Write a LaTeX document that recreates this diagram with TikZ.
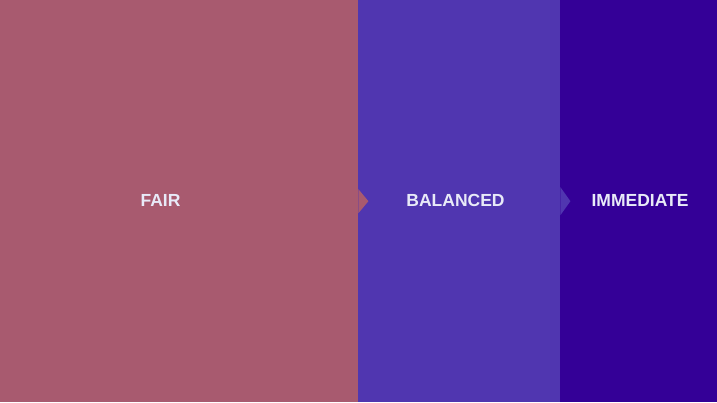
\documentclass[tikz,border=0pt]{standalone}
\usepackage{fontspec}
\setmainfont{Liberation Sans}
\usepackage{tikz}
\usetikzlibrary{positioning,calc}
\usepackage{xcolor}
\definecolor{fairc}{RGB}{168,90,111}
\definecolor{balc}{RGB}{80,54,176}
\definecolor{immc}{RGB}{52,0,151}
\definecolor{lblc}{RGB}{232,234,248}

\begin{document}
\begin{tikzpicture}[x=1pt, y=-1pt,
        band/.style={draw=none, rectangle, inner sep=0pt, minimum height=402pt, anchor=north west},
        lbl/.style={font=\bfseries\fontsize{17.5}{20}\selectfont, text=lblc, inner sep=0pt}]
        \useasboundingbox (0,0) rectangle (717,402);

        % Faixas
        \node[band, fill=immc, minimum width=157pt] (imm) at (560,0) {};
        \node[band, fill=balc, minimum width=202pt] (bal) at (358,0) {};
        \fill[balc] ($(bal.east)+(0,-14)$) -- ($(bal.east)+(10,0)$) -- ($(bal.east)+(0,14)$) -- cycle;
        \node[band, fill=fairc, minimum width=358pt] (fair) at (0,0) {};
        \fill[fairc] ($(fair.east)+(0,-12)$) -- ($(fair.east)+(10,0)$) -- ($(fair.east)+(0,12)$) -- cycle;

        % Textos
        \node[lbl] (fairlbl) at (160.5,200) {FAIR};
        \node[lbl] (ballbl) at (455.5,200) {BALANCED};
        \node[lbl] (immlbl) at (640,200) {IMMEDIATE};
    \end{tikzpicture}
\end{document}
